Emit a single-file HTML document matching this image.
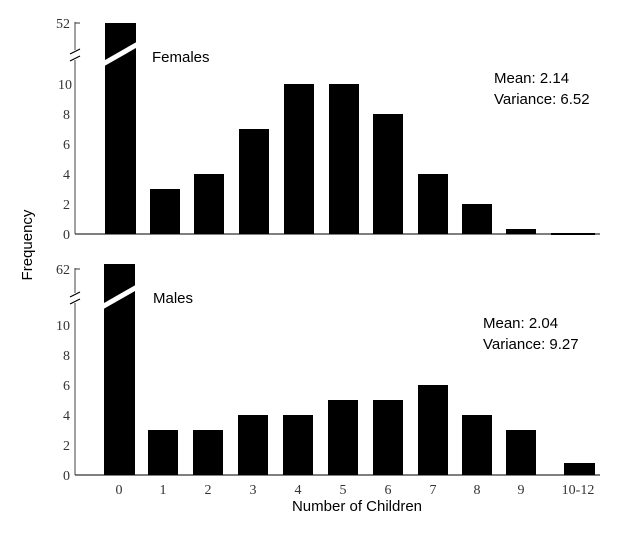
<!DOCTYPE html><html><head><style>body{margin:0;background:#fff}.s{font-family:"Liberation Serif",serif}.a{font-family:"Liberation Sans",sans-serif}</style></head><body>
<svg width="628" height="532" xmlns="http://www.w3.org/2000/svg">
<g fill="#000">
<line x1="75" y1="22" x2="75" y2="234" stroke="#444" stroke-width="1"/>
<line x1="75" y1="234" x2="600" y2="234" stroke="#333" stroke-width="1.2"/>
<line x1="75" y1="23" x2="80" y2="23" stroke="#333"/>
<g class="s" font-size="14" text-anchor="end" fill="#333">
<text x="70" y="28">52</text><text x="72" y="89">10</text><text x="70" y="119">8</text><text x="70" y="149">6</text><text x="70" y="179">4</text><text x="70" y="209">2</text><text x="70" y="239">0</text></g>
<rect x="72" y="50" width="8" height="10" fill="#fff"/>
<line x1="70" y1="54" x2="80" y2="49" stroke="#000" stroke-width="1.2"/><line x1="70" y1="61" x2="80" y2="56" stroke="#000" stroke-width="1.2"/>
<rect x="105" y="23" width="31" height="211"/>
<line x1="103" y1="64" x2="138" y2="44" stroke="#fff" stroke-width="5"/>
<rect x="150" y="189" width="30" height="45"/>
<rect x="194" y="174" width="30" height="60"/>
<rect x="239" y="129" width="30" height="105"/>
<rect x="284" y="84" width="30" height="150"/>
<rect x="329" y="84" width="30" height="150"/>
<rect x="373" y="114" width="30" height="120"/>
<rect x="418" y="174" width="30" height="60"/>
<rect x="462" y="204" width="30" height="30"/>
<rect x="506" y="229" width="30" height="5"/>
<rect x="551" y="233" width="44" height="2"/>
<line x1="75" y1="268" x2="75" y2="475" stroke="#444"/>
<line x1="75" y1="475" x2="600" y2="475" stroke="#333" stroke-width="1.2"/>
<line x1="75" y1="269" x2="80" y2="269" stroke="#333"/>
<g class="s" font-size="14" text-anchor="end" fill="#333">
<text x="70" y="274">62</text><text x="70" y="330">10</text><text x="70" y="360">8</text><text x="70" y="390">6</text><text x="70" y="420">4</text><text x="70" y="450">2</text><text x="70" y="480">0</text></g>
<rect x="72" y="293" width="8" height="10" fill="#fff"/>
<line x1="70" y1="297" x2="80" y2="292" stroke="#000" stroke-width="1.2"/><line x1="70" y1="304" x2="80" y2="299" stroke="#000" stroke-width="1.2"/>
<rect x="104" y="264" width="31" height="211"/>
<line x1="102" y1="307" x2="137" y2="287" stroke="#fff" stroke-width="5"/>
<rect x="148" y="430" width="30" height="45"/>
<rect x="193" y="430" width="30" height="45"/>
<rect x="238" y="415" width="30" height="60"/>
<rect x="283" y="415" width="30" height="60"/>
<rect x="328" y="400" width="30" height="75"/>
<rect x="373" y="400" width="30" height="75"/>
<rect x="418" y="385" width="30" height="90"/>
<rect x="462" y="415" width="30" height="60"/>
<rect x="506" y="430" width="30" height="45"/>
<rect x="564" y="463" width="31" height="12"/>
<g class="s" font-size="14" text-anchor="middle" fill="#333">
<text x="119" y="494">0</text><text x="163" y="494">1</text><text x="208" y="494">2</text><text x="253" y="494">3</text><text x="298" y="494">4</text><text x="343" y="494">5</text><text x="388" y="494">6</text><text x="433" y="494">7</text><text x="477" y="494">8</text><text x="521" y="494">9</text><text x="578" y="494">10-12</text></g>
</g>
<g class="a" font-size="15" fill="#000">
<text x="152" y="62">Females</text>
<text x="494" y="83">Mean: 2.14</text><text x="494" y="104">Variance: 6.52</text>
<text x="153" y="303">Males</text>
<text x="483" y="328">Mean:  2.04</text><text x="483" y="349">Variance: 9.27</text>
<text x="357" y="511" text-anchor="middle">Number of Children</text>
<text transform="translate(32,245) rotate(-90)" text-anchor="middle">Frequency</text>
</g>
</svg></body></html>
